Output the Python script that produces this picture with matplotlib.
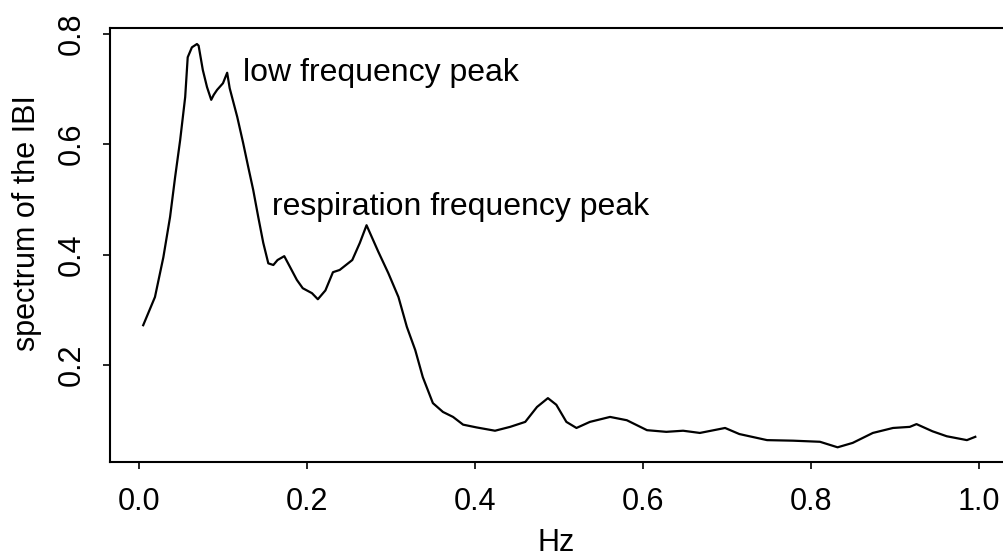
import matplotlib
matplotlib.use("Agg")
import matplotlib.pyplot as plt

plt.rcParams['font.family'] = ['Liberation Sans', 'DejaVu Sans']

freq_hz = [0.005, 0.019, 0.029, 0.037, 0.043, 0.049, 0.055, 0.058, 0.063, 0.069, 0.071,
           0.076, 0.081, 0.086, 0.089, 0.093, 0.100, 0.105, 0.108, 0.117, 0.124, 0.130,
           0.136, 0.142, 0.148, 0.154, 0.160, 0.165, 0.173, 0.180, 0.188, 0.195, 0.206,
           0.213, 0.222, 0.231, 0.239, 0.254, 0.263, 0.271, 0.285, 0.297, 0.309, 0.319,
           0.329, 0.338, 0.350, 0.362, 0.374, 0.386, 0.402, 0.424, 0.442, 0.460, 0.474,
           0.487, 0.497, 0.509, 0.521, 0.537, 0.561, 0.581, 0.605, 0.628, 0.648, 0.668,
           0.698, 0.715, 0.748, 0.779, 0.811, 0.832, 0.850, 0.874, 0.898, 0.918, 0.926,
           0.945, 0.962, 0.986, 0.996]
spectrum = [0.272, 0.323, 0.395, 0.468, 0.540, 0.607, 0.685, 0.757, 0.775, 0.781, 0.778,
            0.734, 0.703, 0.680, 0.689, 0.698, 0.710, 0.729, 0.701, 0.649, 0.602, 0.559,
            0.517, 0.468, 0.421, 0.384, 0.381, 0.390, 0.397, 0.377, 0.354, 0.339, 0.330,
            0.319, 0.335, 0.368, 0.372, 0.390, 0.421, 0.453, 0.405, 0.366, 0.323, 0.269,
            0.227, 0.178, 0.131, 0.115, 0.106, 0.092, 0.087, 0.081, 0.088, 0.097, 0.124,
            0.140, 0.128, 0.097, 0.086, 0.097, 0.106, 0.100, 0.082, 0.079, 0.081, 0.077,
            0.086, 0.075, 0.064, 0.063, 0.061, 0.051, 0.059, 0.077, 0.086, 0.088, 0.093,
            0.080, 0.071, 0.064, 0.070]

x_ticks = [0.0, 0.2, 0.4, 0.6, 0.8, 1.0]
x_tick_labels = ["0.0", "0.2", "0.4", "0.6", "0.8", "1.0"]
y_ticks = [0.2, 0.4, 0.6, 0.8]
y_tick_labels = ["0.2", "0.4", "0.6", "0.8"]

annotations = ["low frequency peak", "respiration frequency peak"]
annotation_pos = [(0.124, 0.728), (0.158, 0.486)]

FS = 22

fig = plt.figure(figsize=(10.04, 5.6), dpi=100)
ax = fig.add_axes([0.1096, 0.175, 0.894, 0.775])
ax.plot(freq_hz, spectrum, color='black', lw=1.6)
ax.set_xlim(-0.0345, 1.0345)
ax.set_ylim(0.0244, 0.81)

ax.set_xticks(x_ticks)
ax.set_xticklabels(x_tick_labels)
ax.set_yticks(y_ticks)
ax.set_yticklabels(y_tick_labels, rotation=90, va='center')
ax.tick_params(direction='out', length=5, width=1.2, labelsize=FS, colors='black')
ax.tick_params(axis='x', pad=13)
ax.tick_params(axis='y', pad=12)
for s in ax.spines.values():
    s.set_linewidth(1.5)

ax.set_xlabel("Hz", fontsize=FS)
ax.set_ylabel("spectrum of the IBI", fontsize=FS)
ax.xaxis.set_label_coords(0.497, -0.152)
ax.yaxis.set_label_coords(-0.0757, 0.551)

for txt, (tx, ty) in zip(annotations, annotation_pos):
    ax.text(tx, ty, txt, fontsize=23, ha='left', va='center')

fig.savefig("out.png", dpi=100)
